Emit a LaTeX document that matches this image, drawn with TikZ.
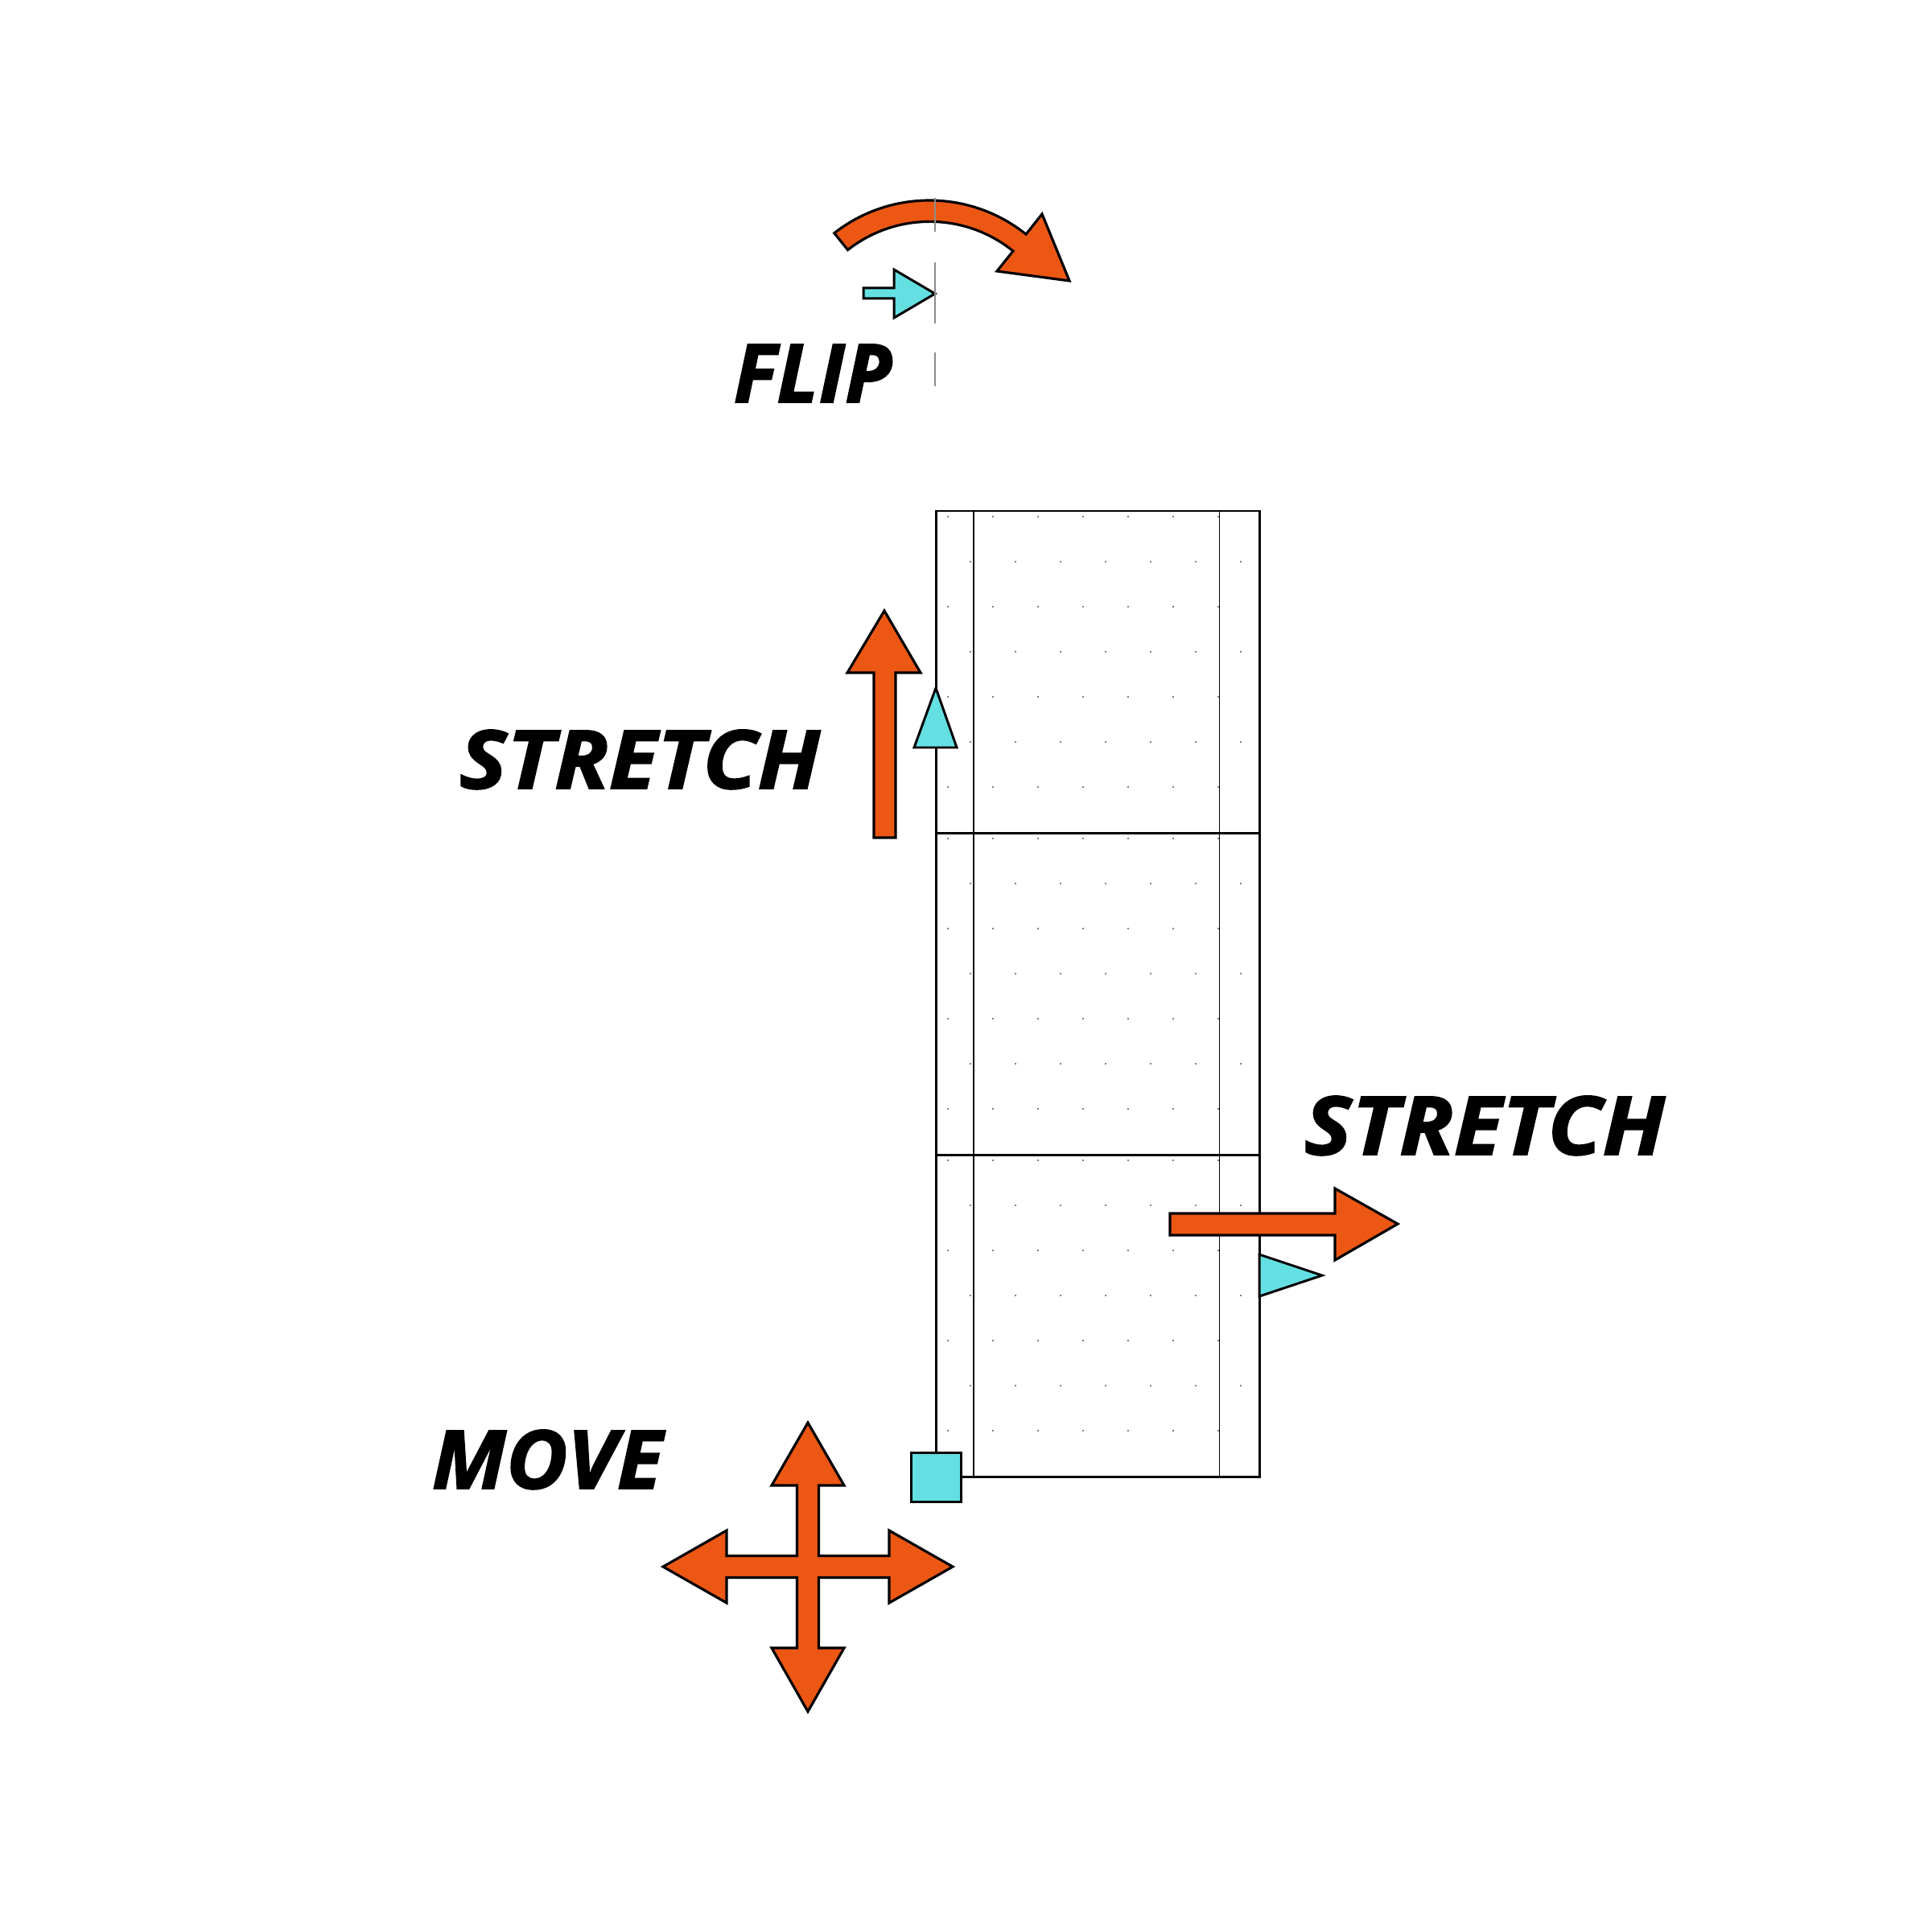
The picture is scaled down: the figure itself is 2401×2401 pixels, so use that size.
\documentclass[tikz,border=0pt]{standalone}
\usepackage{fontspec}
\setmainfont{Open Sans}
\newfontfamily\lblfont{Open Sans}[FakeBold=1.6]
\definecolor{org}{RGB}{236,88,20}
\definecolor{cyn}{RGB}{100,224,226}
\definecolor{guide}{RGB}{140,140,140}
\begin{document}
\begin{tikzpicture}[x=0.01cm,y=-0.01cm,line join=miter]
\tikzset{
  orangeshape/.style={fill=org,draw=black,line width=0.9pt},
  cyanshape/.style={fill=cyn,draw=black,line width=0.85pt},
  frameline/.style={draw=black,line width=0.85pt},
  thinline/.style={draw=black,line width=0.3pt},
  guideline/.style={draw=guide,line width=0.3pt},
  lbl/.style={font=\lblfont\fontsize{28.7}{30}\selectfont\bfseries\itshape,inner sep=0pt,anchor=base}
}
\useasboundingbox (0,0) rectangle (2401,2401);
% dots
\foreach \c in {0,1,2}{
  \foreach \k in {0,...,6}{
    \pgfmathsetmacro{\yy}{635+400*\c+7+56*\k}
    \pgfmathsetmacro{\xo}{ifthenelse(mod(\k,2)==0,1178,1206)}
    \foreach \j in {0,...,6}{
      \fill ({\xo+56*\j},\yy) circle[radius=0.8];
    }
  }
}
% frame
\draw[thinline] (1210,635) -- (1210,1835);
\draw[thinline] (1515,635) -- (1515,1835);
\draw[frameline] (1163,635) rectangle (1565,1835);
\draw[frameline] (1163,1035) -- (1565,1035);
\draw[frameline] (1163,1435) -- (1565,1435);
% cyan handles
\draw[cyanshape] (1136,929) -- (1189,929) -- (1163,855) -- cycle;
\draw[cyanshape] (1565,1559) -- (1643,1585) -- (1565,1611) -- cycle;
\draw[cyanshape] (1132,1805) rectangle (1194,1866);
\draw[cyanshape] (1073,358) -- (1111,358) -- (1111,335) -- (1162,365) -- (1111,395) -- (1111,371) -- (1073,371) -- cycle;
% orange arrows
\draw[orangeshape] (1086,1041) -- (1086,836) -- (1053,836) -- (1099,759) -- (1144,836) -- (1113,836) -- (1113,1041) -- cycle;
\draw[orangeshape] (1454,1508) -- (1659,1508) -- (1659,1477) -- (1737,1521) -- (1659,1566) -- (1659,1535) -- (1454,1535) -- cycle;
\draw[orangeshape] (1017.5,1846) -- (1049,1846) -- (1004,1768) -- (959,1846) -- (990.5,1846) -- (990.5,1933.5)
  -- (903,1933.5) -- (903,1902) -- (824,1947) -- (903,1992) -- (903,1960.5) -- (990.5,1960.5)
  -- (990.5,2048) -- (959,2048) -- (1004,2127) -- (1049,2048) -- (1017.5,2048) -- (1017.5,1960.5)
  -- (1105,1960.5) -- (1105,1992) -- (1184,1947) -- (1105,1902) -- (1105,1933.5) -- (1017.5,1933.5) -- cycle;
\draw[orangeshape] (1036.8,289.7) arc[start angle=-128,end angle=-51.3,radius=192]
  -- (1295,266) -- (1329,349) -- (1239,337) -- (1259,312)
  arc[start angle=-51.1,end angle=-128.1,radius=165] -- cycle;
% flip guide
\draw[guideline] (1162,246) -- (1162,288) (1162,326) -- (1162,402) (1162,438) -- (1162,480);
% labels
\node[lbl] (flip) at (1010,500) {FLIP};
\node[lbl,xscale=1.1] (stretchup) at (795,980) {STRETCH};
\node[lbl,xscale=1.1] (stretchright) at (1845,1435) {STRETCH};
\node[lbl,xscale=1.04] (move) at (680,1850) {MOVE};
\end{tikzpicture}
\end{document}
